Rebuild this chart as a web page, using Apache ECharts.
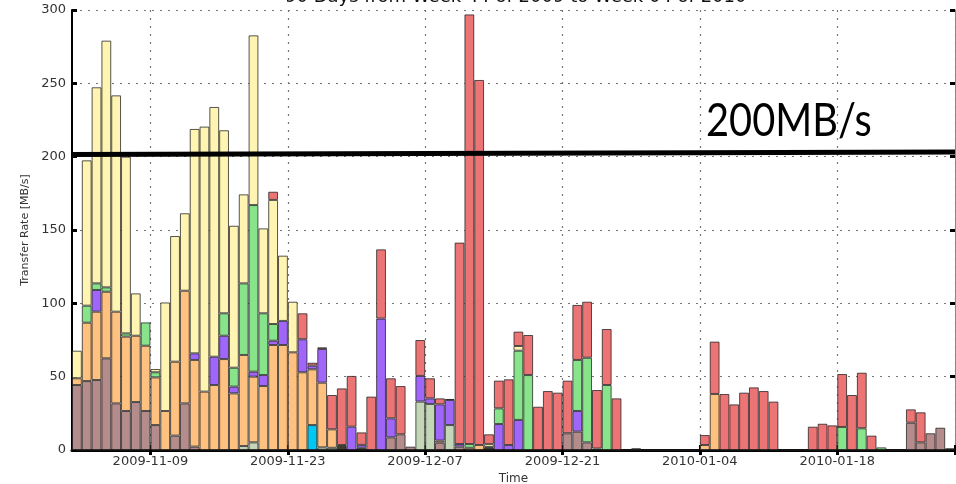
<!DOCTYPE html>
<html><head><meta charset="utf-8">
<script src="https://cdn.jsdelivr.net/npm/echarts@6/dist/echarts.min.js"></script>
<style>html,body{margin:0;padding:0;background:#fff}#c{width:956px;height:484px}</style>
</head><body><div id="c"></div>
<script>
// ---- categories: 90 days starting 2009-11-01 ----
const startDate = '2009-11-01';
const numDays = 90;
const tickLabels = ['2009-11-09','2009-11-23','2009-12-07','2009-12-21','2010-01-04','2010-01-18'];
const titleText = '90 Days from Week 44 of 2009 to Week 04 of 2010';

// ---- series values (MB/s), one per day, stacked bottom to top ----
const dark = [
 0,0,0,0,0,0,0,0,0,0,
 0,0,0,0,0,0,0,0,0,0,
 0,0,0,0,0,0,0,3.4,0,1.5,
 0,0,0,0,0,0,0,0,0,0,
 0,0,2,0,0,0,0,0,0,0,
 0,0,0,1,0,0,0,1.2,0,0,
 0,0,0,0,0,0,0,0,0,0,
 0,0,0,0,0,0,0,0,0,0,
 0,0,0,0,0,0,0,0,0,1.2];
const brown = [
 44.3,47,47.7,62.5,31.8,26.6,32.7,26.6,17,0,
 9.8,31.8,2.3,0,0,0,0,0,0,0,
 0,0,0,0,0,0,0,0,0,0,
 0,0,8.6,10.7,2.3,0,0,5,0,2.3,
 0,0,0,0,0,0,0,0,0,0,
 11.4,12.5,5.2,0,0,0,0,0,0,0,
 0,0,0,0,0,0,0,0,0,0,
 0,0,0,0,0,0,0,0,0,0,
 0,0,0,0,0,18.6,5.2,11.4,15.2,0];
const sage = [
 0,0,0,0,0,0,0,0,0,0,
 0,0,0,0,0,0,0,2.7,5.2,0,
 0,0,0,0,0,1.8,1.5,0,0,0,
 0,0,0,0,0,33,31.4,0,17,0,
 0,0,0,0,0,0,0,0,0,0,
 0,0,0,0,0,0,0,0,0,0,
 0,0,0,0,0,0,0,0,0,0,
 0,0,0,0,0,0,0,0,0,0,
 0,0,0,0,0,0,0,0,0,0];
const cyan = [
 0,0,0,0,0,0,0,0,0,0,
 0,0,0,0,0,0,0,0,0,0,
 0,0,0,0,17,0,0,0,0,0,
 0,0,0,0,0,0,0,0,0,0,
 0,0,0,0,0,0,0,0,0,0,
 0,0,0,0,0,0,0,0,0,0,
 0,0,0,0,0,0,0,0,0,0,
 0,0,0,0,0,0,0,0,0,0,
 0,0,0,0,0,0,0,0,0,0];
const orange = [
 4.6,39.8,46.6,45.4,62.5,50.7,45.2,44.5,32.5,26.6,
 50.4,76.8,59.1,39.8,44.3,62,38.6,62.1,44.8,43.6,
 71.6,71.6,66.6,53,38,44.1,12.6,0,0,0,
 0,0,0,0,0,0,0,1.4,0,0,
 1.5,3.4,0,0,0,0,0,0,0,0,
 0,0,0,0,0,0,0,0,0,0,
 0,0,0,0,3.4,38.2,0,0,0,0,
 0,0,0,0,0,0,0,0,0,0,
 0,0,0,0,0,0,0,0,0,0];
const purple = [
 0,0,14.8,0,0,0,0,0,0,0,
 0,0,4.5,0,19.3,15.9,4.6,0,3.4,7.5,
 2.9,16.4,0,22.5,2.5,23,0,0,15.9,2,
 0,89.6,13,0,0,17.5,3.8,24.7,17.1,1.8,
 0,0,0,17.7,3.4,20.5,0,0,0,0,
 0,14.1,0,0,0,0,0,0,0,0,
 0,0,0,0,0,0,0,0,0,0,
 0,0,0,0,0,0,0,0,0,0,
 0,0,0,0,0,0,0,0,0,0];
const green = [
 0,11.6,4.5,3,0,2.2,0,15.9,3.5,0,
 0,0,0,0,0,15.3,12.9,48.8,113.6,42.1,
 11.4,0,0,0,0,0,0,0,0,0,
 0,0,0,0,0,0,0,0,0,0,
 2.6,0,0,10.7,0,47.2,51.1,0,0,0,
 0,34.8,57.7,0,44.3,0,0,0,0,0,
 0,0,0,0,0,0,0,0,0,0,
 0,0,0,0,0,0,0,0,15.7,0,
 14.8,0,1.8,0,0,0,0,0,0,0];
const yellow = [
 18.8,99.1,133.7,168.2,147.5,120.5,28.9,0,2.2,74,
 85.7,52.8,153,180.7,170.3,124.8,96.8,60.7,115.7,57.9,
 84.6,44.5,34.5,0,0,0,0,0,0,0,
 0,0,0,0,0,0,0,0,0,0,
 0,0,2,0,0,3.2,0,0,0,0,
 0,0,0,0,0,0,0,0,0,0,
 0,0,0,0,0,0,0,0,0,0,
 0,0,0,0,0,0,0,0,0,0,
 0,0,0,0,0,0,0,0,0,0];
const red = [
 0,0,0,0,0,0,0,0,0,0,
 0,0,0,0,0,0,0,0,0,0,
 5.6,0,0,17.7,2,1.1,23.4,38.6,34.6,8.5,
 36.4,47.2,27.3,32.9,0,24.5,13.7,4.1,0.7,137.3,
 292.9,248.9,6.7,18.9,44.8,9.8,27.3,29.5,40.2,39.1,
 35.9,37.5,38.2,39.9,38.2,35.2,0,0,0,0,
 0,0,0,0,6.8,35.7,38.2,31.1,39.1,42.7,
 40.2,33,0,0,0,15.9,17.9,16.8,36.1,37.5,
 37.9,9.8,0,0,0,9.1,20.5,0,0,0];

// ---- 200 MB/s reference line (day position, MB/s) ----
const refLineX = [0, 90];
const refLineY = [201.4, 203.2];
const refLabel = '200MB/s';

// build day categories
const days = [];
{
  const d0 = new Date(startDate + 'T00:00:00Z');
  for (let i = 0; i < numDays; i++) {
    const d = new Date(d0.getTime() + i * 86400000);
    days.push(d.toISOString().slice(0, 10));
  }
}

const stackDefs = [
  ['dark', dark, '#3d3d30'],
  ['brown', brown, '#b58c8c'],
  ['sage', sage, '#c4d6b8'],
  ['cyan', cyan, '#00c8f2'],
  ['orange', orange, '#ffc17f'],
  ['purple', purple, '#a066fa'],
  ['green', green, '#88e48b'],
  ['yellow', yellow, '#fff4b2'],
  ['red', red, '#ed7474']
];

const isTick = (i, v) => tickLabels.indexOf(v) >= 0;
const FONT = 'DejaVu Sans';
const dotted = { type: [2, 6], color: '#777', width: 1.2 };

const chart = echarts.init(document.getElementById('c'), null, { renderer: 'canvas' });
const option = {
  animation: false,
  backgroundColor: '#fff',
  textStyle: { fontFamily: FONT },
  title: {
    text: titleText, left: 280, top: -17,
    textStyle: { fontFamily: FONT, fontSize: 18, fontWeight: 'normal', color: '#111' }
  },
  grid: { left: 72, right: 1, top: 10, bottom: 34, containLabel: false, outerBoundsMode: 'none' },
  xAxis: [
    {
      type: 'category', data: days, position: 'bottom',
      name: 'Time', nameLocation: 'middle', nameGap: 23,
      nameTextStyle: { fontFamily: FONT, fontSize: 12, color: '#333' },
      axisLine: { show: true, lineStyle: { color: '#000', width: 3 } },
      axisTick: { show: true, inside: true, length: 5, interval: isTick, lineStyle: { color: '#000', width: 3 } },
      axisLabel: { interval: isTick, fontFamily: FONT, fontSize: 13, color: '#333', margin: 5, padding: [0, 10, 0, 0] },
      splitLine: { show: true, interval: isTick, lineStyle: dotted }
    },
    {
      type: 'category', data: days, position: 'top',
      axisLine: { show: true, lineStyle: { color: '#111', width: 2 } },
      axisTick: { show: true, inside: true, length: 5, interval: isTick, lineStyle: { color: '#000', width: 3 } },
      axisLabel: { show: false }, splitLine: { show: false }
    },
    { type: 'value', min: 0, max: numDays, show: false }
  ],
  yAxis: [
    {
      type: 'value', min: 0, max: 300, interval: 50, position: 'left',
      name: 'Transfer Rate [MB/s]', nameLocation: 'middle', nameGap: 34,
      nameTextStyle: { fontFamily: FONT, fontSize: 11, color: '#333' },
      axisLine: { show: true, lineStyle: { color: '#000', width: 2 } },
      axisTick: { show: true, inside: true, length: 5, lineStyle: { color: '#000', width: 3 } },
      axisLabel: { fontFamily: FONT, fontSize: 13, color: '#333', margin: 6 },
      splitLine: { show: true, lineStyle: dotted }
    },
    {
      type: 'value', min: 0, max: 300, interval: 50, position: 'right',
      axisLine: { show: true, lineStyle: { color: '#888', width: 1 } },
      axisTick: { show: true, inside: true, length: 5, lineStyle: { color: '#000', width: 3 } },
      axisLabel: { show: false }, splitLine: { show: false }
    }
  ],
  series: stackDefs.map(([name, vals, color]) => ({
    name, type: 'bar', stack: 'total', xAxisIndex: 0, yAxisIndex: 0,
    barCategoryGap: '0%',
    data: vals.map(v => (v > 0 ? v : null)),
    itemStyle: { color, borderColor: 'rgba(30,30,30,0.75)', borderWidth: 1 }
  })).concat([{
    name: 'ref', type: 'line', xAxisIndex: 2, yAxisIndex: 0, symbol: 'none', z: 10,
    data: refLineX.map((x, i) => [x, refLineY[i]]),
    lineStyle: { color: '#000', width: 5 }
  }]),
  graphic: [{
    type: 'text', x: 706, y: 98, scaleX: 0.865, z: 100,
    style: { text: refLabel, font: '46px Lato', fill: '#000' }
  }]
};
chart.setOption(option);
</script>
</body></html>
